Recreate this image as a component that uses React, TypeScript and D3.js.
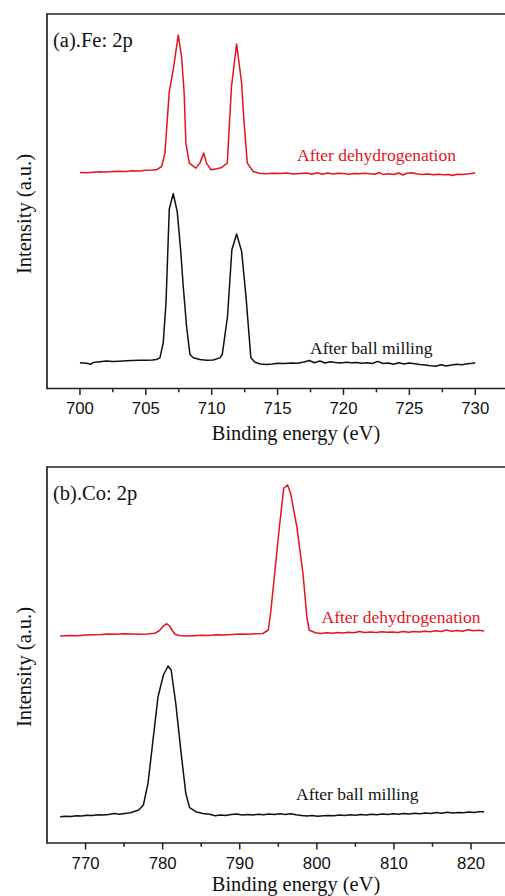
import React from "react";
import * as d3 from "d3";

// ---------- Panel (a) Fe 2p ----------
const feEnergyDehyd = [700, 700.5, 701, 701.5, 702, 702.5, 703, 703.5, 704, 704.5, 705, 705.5, 705.8, 706.2, 706.45, 706.78, 707.08, 707.46, 707.71, 707.91, 708.04, 708.3, 708.8, 709.1, 709.4, 709.6, 709.94, 710.4, 710.75, 711.18, 711.5, 711.89, 712.27, 712.44, 712.7, 713.15, 713.6, 714.17, 714.6, 715.2, 715.7, 716.2, 716.7, 717.2, 717.6, 718.0, 718.4, 718.8, 719.2, 719.6, 720.0, 720.4, 720.8, 721.2, 721.6, 722.0, 722.4, 722.7, 723.0, 723.4, 723.8, 724.2, 724.5, 724.8, 725.2, 725.6, 726.0, 726.4, 726.8, 727.2, 727.6, 728.0, 728.3, 728.6, 729.0, 729.4, 729.7, 730.0];
const feIntDehyd = [216.3, 216.0, 216.5, 217.0, 216.7, 217.2, 217.5, 217.3, 218.0, 217.8, 218.5, 218.7, 219.0, 222.3, 235.7, 297.3, 319.0, 354.0, 332.3, 295.7, 245.7, 225.7, 220.7, 225.7, 235.7, 225.7, 219.0, 220.0, 221.3, 225.7, 302.3, 345.0, 305.7, 269.0, 225.7, 217.3, 215.5, 215.0, 215.5, 215.2, 215.7, 214.8, 215.3, 215.8, 214.6, 216.0, 214.5, 215.7, 214.8, 215.5, 215.2, 214.6, 215.4, 215.0, 215.6, 215.1, 214.5, 216.3, 214.4, 215.0, 214.3, 215.8, 213.8, 215.5, 216.0, 214.7, 214.2, 214.8, 214.0, 214.6, 214.0, 214.3, 213.2, 214.5, 214.2, 214.8, 215.3, 215.7];

const feEnergyMill = [700, 700.5, 700.8, 701, 701.5, 702, 702.5, 703, 703.5, 704, 704.5, 705, 705.5, 705.8, 706.07, 706.32, 706.53, 706.78, 707.08, 707.38, 707.64, 707.84, 708.09, 708.35, 708.6, 709.1, 709.61, 710.1, 710.62, 710.8, 711.2, 711.53, 711.89, 712.27, 712.6, 712.97, 713.28, 713.7, 714.17, 714.6, 715.0, 715.5, 716.0, 716.5, 717.0, 717.4, 717.8, 718.2, 718.6, 719.0, 719.4, 719.8, 720.2, 720.6, 721.0, 721.4, 721.8, 722.2, 722.6, 723.0, 723.4, 723.8, 724.2, 724.6, 725.0, 725.4, 725.8, 726.2, 726.6, 727.0, 727.4, 727.8, 728.2, 728.6, 729.0, 729.4, 729.8, 730.0];
const feIntMill = [25.7, 25.3, 24.2, 26.0, 26.7, 27.5, 27.0, 27.3, 27.7, 28.0, 28.2, 28.3, 28.5, 29.0, 30.7, 45.7, 85.7, 179.7, 195.0, 177.3, 139.0, 102.3, 62.3, 34.0, 30.7, 29.0, 28.3, 28.5, 30.7, 34.0, 72.3, 139.0, 154.7, 137.3, 92.3, 30.7, 26.3, 24.5, 24.0, 24.5, 25.3, 25.0, 25.6, 25.2, 26.5, 28.0, 25.8, 27.5, 25.5, 26.8, 26.0, 25.5, 26.3, 25.7, 26.0, 25.3, 25.8, 25.0, 27.2, 25.0, 25.6, 24.2, 25.8, 24.5, 25.5, 24.8, 24.0, 23.5, 22.8, 22.3, 23.8, 22.5, 23.6, 24.2, 23.8, 24.8, 25.2, 25.7];

const feMajorTicks = [700, 705, 710, 715, 720, 725, 730];
const feMinorTicks = [702.5, 707.5, 712.5, 717.5, 722.5, 727.5];

// ---------- Panel (b) Co 2p ----------
const coEnergyDehyd = [766.7, 768, 769, 770, 771, 772, 773, 774, 775, 776, 777, 778, 779.0, 779.6, 780.1, 780.5, 780.9, 781.3, 781.6, 782.2, 783, 784, 785, 786, 787, 788, 789, 790, 791, 792, 793, 793.7, 794.0, 794.4, 795.1, 795.7, 796.2, 796.6, 797.4, 798.2, 798.7, 799.0, 799.8, 800.5, 801.3, 802, 802.7, 803.4, 804.1, 804.8, 805.5, 806.2, 807, 807.7, 808.4, 809.1, 809.8, 810.5, 811.2, 811.9, 812.6, 813.3, 814, 814.7, 815.4, 816.1, 816.8, 817.5, 818.2, 818.9, 819.6, 820.3, 821, 821.7];
const coIntDehyd = [207.0, 207.5, 207.3, 208.0, 208.3, 208.5, 209.0, 208.7, 209.3, 209.0, 208.7, 209.0, 209.7, 212.5, 217.0, 219.3, 217.0, 212.0, 208.7, 207.5, 207.0, 207.3, 207.7, 207.5, 208.3, 208.0, 208.5, 209.0, 208.7, 209.3, 209.5, 213.0, 229.7, 259.7, 313.0, 354.7, 358.0, 349.7, 316.3, 269.7, 226.3, 213.0, 210.3, 209.5, 210.2, 209.8, 210.5, 209.9, 210.8, 210.3, 211.5, 210.4, 211.0, 210.6, 211.3, 210.7, 211.0, 210.5, 211.4, 210.8, 211.6, 211.0, 211.8, 211.2, 212.3, 211.5, 213.0, 211.8, 212.5, 211.7, 213.2, 212.2, 212.8, 212.0];

const coEnergyMill = [766.7, 767.4, 768.1, 768.8, 769.5, 770.2, 770.9, 771.6, 772.3, 773, 773.7, 774.4, 775.1, 775.8, 776.2, 776.9, 777.5, 778.1, 778.8, 779.4, 780.1, 780.7, 781.1, 781.7, 782.4, 783.0, 783.5, 784.3, 785.2, 786.1, 786.8, 787.5, 788.2, 788.9, 789.6, 790.3, 791, 791.7, 792.4, 793.1, 793.8, 794.5, 795.2, 795.9, 796.6, 797.3, 798, 798.7, 799.4, 800.1, 800.8, 801.5, 802.2, 802.9, 803.6, 804.3, 805, 805.7, 806.4, 807.1, 807.8, 808.5, 809.2, 809.9, 810.6, 811.3, 812, 812.7, 813.4, 814.1, 814.8, 815.5, 816.2, 816.9, 817.6, 818.3, 819, 819.7, 820.4, 821, 821.7];
const coIntMill = [26.3, 26.8, 26.4, 27.2, 26.9, 27.8, 27.5, 28.3, 28.0, 28.6, 29.4, 28.8, 29.6, 30.2, 31.3, 33.0, 38.0, 59.7, 106.3, 146.3, 168.0, 177.0, 173.0, 139.7, 89.7, 49.7, 35.3, 31.3, 29.5, 28.7, 27.2, 28.0, 27.4, 28.5, 29.0, 28.1, 28.6, 28.0, 28.8, 28.2, 28.9, 28.4, 29.2, 28.6, 29.3, 28.2, 27.6, 27.0, 27.5, 26.8, 27.3, 27.6, 27.2, 27.9, 27.5, 28.2, 27.8, 28.6, 28.1, 28.7, 28.3, 29.0, 28.5, 29.2, 28.8, 29.6, 29.0, 29.8, 29.3, 30.1, 29.5, 30.4, 29.8, 30.8, 30.0, 30.6, 30.2, 31.0, 30.4, 31.2, 31.3];

const coMajorTicks = [770, 780, 790, 800, 810, 820];
const coMinorTicks = [775, 785, 795, 805, 815];

const seriesNames = ["After dehydrogenation", "After ball milling"];
const panelTitles = ["(a).Fe: 2p", "(b).Co: 2p"];
const xTitle = "Binding energy (eV)";
const yTitle = "Intensity (a.u.)";

const RED = "#e3151d";
const BLACK = "#111111";
const SERIF = "'Liberation Serif', 'Times New Roman', serif";
const SANS = "'Liberation Sans', Arial, sans-serif";

type PanelProps = {
  title: string;
  xDomain: [number, number];
  xRange: [number, number];
  yDomain: [number, number];
  top: number;
  bottom: number;
  left: number;
  right: number;
  major: number[];
  minor: number[];
  red: { x: number[]; y: number[] };
  black: { x: number[]; y: number[] };
  redLabel: [number, number];
  blackLabel: [number, number];
  yTitleY: number;
  xTitleOffset: number;
};

function Panel(p: PanelProps) {
  const x = d3.scaleLinear().domain(p.xDomain).range(p.xRange);
  const y = d3.scaleLinear().domain(p.yDomain).range([p.bottom, p.top]);
  const line = d3
    .line<[number, number]>()
    .x((d) => x(d[0]))
    .y((d) => y(d[1]));
  const redPts = p.red.x.map((v, i) => [v, p.red.y[i]] as [number, number]);
  const blackPts = p.black.x.map((v, i) => [v, p.black.y[i]] as [number, number]);
  return (
    <g>
      {/* frame */}
      <line x1={p.left} x2={p.right} y1={p.top} y2={p.top} stroke="#222" strokeWidth={1.7} />
      <line x1={p.left} x2={p.right} y1={p.bottom} y2={p.bottom} stroke="#222" strokeWidth={1.7} />
      <line x1={p.left} x2={p.left} y1={p.top - 0.85} y2={p.bottom + 0.85} stroke="#222" strokeWidth={1.7} />
      {p.major.map((t) => (
        <g key={"M" + t}>
          <line x1={x(t)} x2={x(t)} y1={p.bottom} y2={p.bottom + 6.5} stroke="#222" strokeWidth={1.5} />
          <text x={x(t)} y={p.bottom + 25.5} textAnchor="middle" fontFamily={SANS} fontSize={16.8} fill="#111">
            {t}
          </text>
        </g>
      ))}
      {p.minor.map((t) => (
        <line key={"m" + t} x1={x(t)} x2={x(t)} y1={p.bottom} y2={p.bottom + 3.8} stroke="#222" strokeWidth={1.5} />
      ))}
      <path d={line(redPts) || ""} fill="none" stroke={RED} strokeWidth={1.5} strokeLinejoin="round" />
      <path d={line(blackPts) || ""} fill="none" stroke={BLACK} strokeWidth={1.5} strokeLinejoin="round" />
      <text x={p.redLabel[0]} y={p.redLabel[1]} fontFamily={SERIF} fontSize={17.5} fill={RED}>
        {seriesNames[0]}
      </text>
      <text x={p.blackLabel[0]} y={p.blackLabel[1]} fontFamily={SERIF} fontSize={17.5} fill={BLACK}>
        {seriesNames[1]}
      </text>
      <text x={53} y={p.top + 33} fontFamily={SERIF} fontSize={20.5} fill="#111">
        {p.title}
      </text>
      <text x={296} y={p.bottom + p.xTitleOffset} textAnchor="middle" fontFamily={SERIF} fontSize={20.4} fill="#111">
        {xTitle}
      </text>
      <text
        transform={`translate(31,${p.yTitleY}) rotate(-90)`}
        textAnchor="middle"
        fontFamily={SERIF}
        fontSize={20.5}
        fill="#111"
      >
        {yTitle}
      </text>
    </g>
  );
}

export default function App() {
  return (
    <svg
      width={505}
      height={896}
      viewBox="0 0 505 896"
      style={{ position: "absolute", left: 0, top: 0, background: "#fff" }}
    >
      <rect x={0} y={0} width={505} height={896} fill="#fff" />
      <Panel
        title={panelTitles[0]}
        xDomain={[697.5, 732.5]}
        xRange={[47, 508.2]}
        yDomain={[0, 375]}
        top={14}
        bottom={388.5}
        left={47}
        right={510}
        major={feMajorTicks}
        minor={feMinorTicks}
        red={{ x: feEnergyDehyd, y: feIntDehyd }}
        black={{ x: feEnergyMill, y: feIntMill }}
        redLabel={[297, 161]}
        blackLabel={[310, 354]}
        yTitleY={214}
        xTitleOffset={51}
      />
      <Panel
        title={panelTitles[1]}
        xDomain={[765, 825]}
        xRange={[47, 509.6]}
        yDomain={[0, 376]}
        top={467}
        bottom={843}
        left={47}
        right={510}
        major={coMajorTicks}
        minor={coMinorTicks}
        red={{ x: coEnergyDehyd, y: coIntDehyd }}
        black={{ x: coEnergyMill, y: coIntMill }}
        redLabel={[321.5, 623]}
        blackLabel={[296, 800]}
        yTitleY={667}
        xTitleOffset={47.5}
      />
    </svg>
  );
}
